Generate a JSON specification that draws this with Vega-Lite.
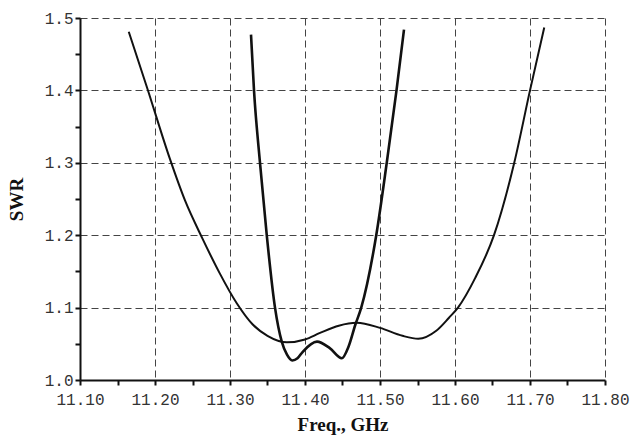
{
  "$schema": "https://vega.github.io/schema/vega-lite/v6.json",
  "width": 525,
  "height": 362,
  "autosize": {"type": "none"},
  "padding": {"left": 80, "top": 18, "right": 25, "bottom": 57},
  "background": "#ffffff",
  "config": {
    "view": {"stroke": null},
    "axis": {
      "labelFont": "Liberation Mono",
      "labelFontSize": 16,
      "labelColor": "#333333",
      "domainColor": "#111111",
      "domainWidth": 2,
      "tickColor": "#111111",
      "tickWidth": 2,
      "tickSize": 5,
      "gridColor": "#444444",
      "gridDash": [7, 4],
      "gridWidth": 1,
      "titleFont": "Liberation Serif",
      "titleFontWeight": "bold",
      "titleFontSize": 19,
      "titleColor": "#111111"
    }
  },
  "datasets": {
    "curves": [
      {"series": "broad", "freq": 11.165, "swr": 1.481},
      {"series": "broad", "freq": 11.190, "swr": 1.402},
      {"series": "broad", "freq": 11.220, "swr": 1.305},
      {"series": "broad", "freq": 11.240, "swr": 1.248},
      {"series": "broad", "freq": 11.263, "swr": 1.196},
      {"series": "broad", "freq": 11.286, "swr": 1.148},
      {"series": "broad", "freq": 11.309, "swr": 1.106},
      {"series": "broad", "freq": 11.330, "swr": 1.077},
      {"series": "broad", "freq": 11.350, "swr": 1.061},
      {"series": "broad", "freq": 11.376, "swr": 1.052},
      {"series": "broad", "freq": 11.400, "swr": 1.056},
      {"series": "broad", "freq": 11.420, "swr": 1.065},
      {"series": "broad", "freq": 11.445, "swr": 1.075},
      {"series": "broad", "freq": 11.469, "swr": 1.079},
      {"series": "broad", "freq": 11.500, "swr": 1.072},
      {"series": "broad", "freq": 11.530, "swr": 1.061},
      {"series": "broad", "freq": 11.551, "swr": 1.057},
      {"series": "broad", "freq": 11.575, "swr": 1.068},
      {"series": "broad", "freq": 11.592, "swr": 1.086},
      {"series": "broad", "freq": 11.604, "swr": 1.100},
      {"series": "broad", "freq": 11.627, "swr": 1.141},
      {"series": "broad", "freq": 11.652, "swr": 1.200},
      {"series": "broad", "freq": 11.679, "swr": 1.300},
      {"series": "broad", "freq": 11.700, "swr": 1.400},
      {"series": "broad", "freq": 11.719, "swr": 1.487},
      {"series": "narrow", "freq": 11.328, "swr": 1.477},
      {"series": "narrow", "freq": 11.332, "swr": 1.400},
      {"series": "narrow", "freq": 11.340, "swr": 1.300},
      {"series": "narrow", "freq": 11.349, "swr": 1.200},
      {"series": "narrow", "freq": 11.360, "swr": 1.100},
      {"series": "narrow", "freq": 11.369, "swr": 1.053},
      {"series": "narrow", "freq": 11.376, "swr": 1.035},
      {"series": "narrow", "freq": 11.383, "swr": 1.027},
      {"series": "narrow", "freq": 11.390, "swr": 1.030},
      {"series": "narrow", "freq": 11.397, "swr": 1.039},
      {"series": "narrow", "freq": 11.416, "swr": 1.053},
      {"series": "narrow", "freq": 11.433, "swr": 1.044},
      {"series": "narrow", "freq": 11.449, "swr": 1.030},
      {"series": "narrow", "freq": 11.458, "swr": 1.046},
      {"series": "narrow", "freq": 11.467, "swr": 1.076},
      {"series": "narrow", "freq": 11.475, "swr": 1.100},
      {"series": "narrow", "freq": 11.495, "swr": 1.200},
      {"series": "narrow", "freq": 11.509, "swr": 1.300},
      {"series": "narrow", "freq": 11.522, "swr": 1.400},
      {"series": "narrow", "freq": 11.532, "swr": 1.484}
    ]
  },
  "data": {"name": "curves"},
  "mark": {"type": "line", "interpolate": "monotone", "color": "#111111"},
  "encoding": {
    "x": {
      "field": "freq",
      "type": "quantitative",
      "scale": {"domain": [11.1, 11.8], "nice": false, "zero": false},
      "axis": {
        "title": "Freq., GHz",
        "values": [11.1, 11.15, 11.2, 11.25, 11.3, 11.35, 11.4, 11.45, 11.5, 11.55, 11.6, 11.65, 11.7, 11.75, 11.8],
        "labelExpr": "round(datum.value*100) % 10 == 0 ? format(datum.value, '.2f') : ''",
        "grid": true,
        "gridOpacity": {"condition": {"test": "round(datum.value*100) % 10 == 0", "value": 1}, "value": 0},
        "labelPadding": 6,
        "titlePadding": 8,
        "labelFlush": false
      }
    },
    "y": {
      "field": "swr",
      "type": "quantitative",
      "scale": {"domain": [1.0, 1.5], "nice": false, "zero": false},
      "axis": {
        "title": "SWR",
        "values": [1.0, 1.05, 1.1, 1.15, 1.2, 1.25, 1.3, 1.35, 1.4, 1.45, 1.5],
        "labelExpr": "round(datum.value*100) % 10 == 0 ? format(datum.value, '.1f') : ''",
        "grid": true,
        "gridOpacity": {"condition": {"test": "round(datum.value*100) % 10 == 0", "value": 1}, "value": 0},
        "labelPadding": 2,
        "titlePadding": 18,
        "labelFlush": false
      }
    },
    "detail": {"field": "series", "type": "nominal"},
    "strokeWidth": {
      "field": "series",
      "type": "nominal",
      "scale": {"domain": ["broad", "narrow"], "range": [2, 2.6]},
      "legend": null
    }
  }
}
